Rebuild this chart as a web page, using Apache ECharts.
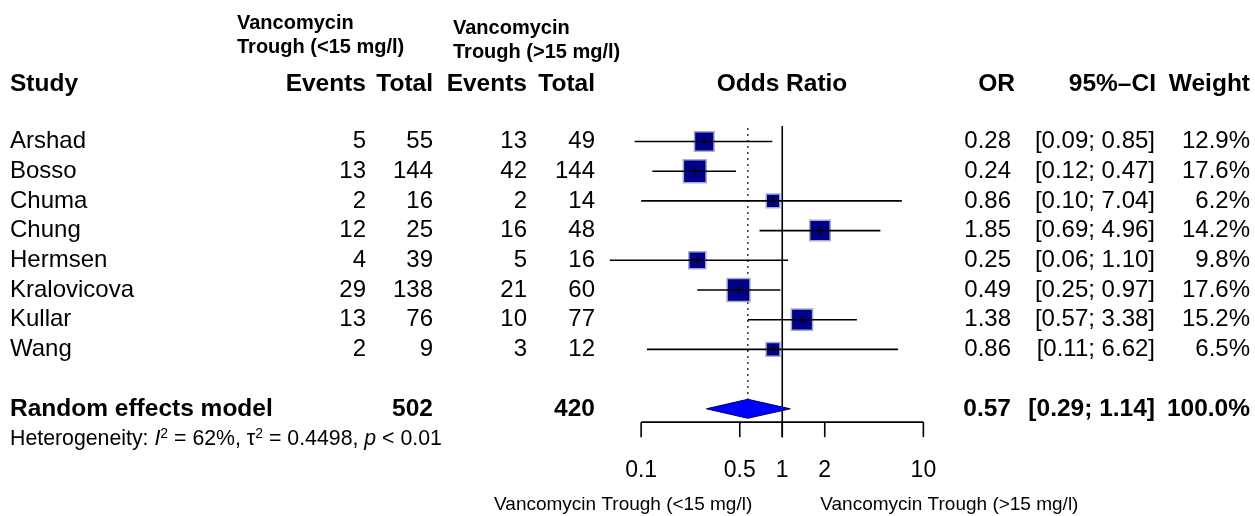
<!DOCTYPE html>
<html><head><meta charset="utf-8">
<script src="https://cdn.jsdelivr.net/npm/echarts@6/dist/echarts.min.js"></script>
<style>html,body{margin:0;padding:0;background:#fff}#c{width:1255px;height:516px}</style>
</head><body><div id="c"></div>
<script>
// ---- data ----
const studies = ['Arshad','Bosso','Chuma','Chung','Hermsen','Kralovicova','Kullar','Wang'];
const eventsLow = [5,13,2,12,4,29,13,2];
const totalLow = [55,144,16,25,39,138,76,9];
const eventsHigh = [13,42,2,16,5,21,10,3];
const totalHigh = [49,144,14,48,16,60,77,12];
const oddsRatio = [0.28,0.24,0.86,1.85,0.25,0.49,1.38,0.86];
const ciLow = [0.09,0.12,0.10,0.69,0.06,0.25,0.57,0.11];
const ciHigh = [0.85,0.47,7.04,4.96,1.10,0.97,3.38,6.62];
const weights = [12.9,17.6,6.2,14.2,9.8,17.6,15.2,6.5];
const pooledLabel = 'Random effects model';
const pooledTotalLow = 502;
const pooledTotalHigh = 420;
const pooledOR = 0.57;
const pooledLow = 0.29;
const pooledHigh = 1.14;
const pooledWeight = 100.0;
const tickValues = [0.1, 0.5, 1, 2, 10];
const tickLabels = ['0.1','0.5','1','2','10'];
const groupLow = ['Vancomycin','Trough (<15 mg/l)'];
const groupHigh = ['Vancomycin','Trough (>15 mg/l)'];
const labelLeft = 'Vancomycin Trough (<15 mg/l)';
const labelRight = 'Vancomycin Trough (>15 mg/l)';

// ---- layout ----
const FONT = '"Liberation Sans", Arial, Helvetica, sans-serif';
const FS = 24;
const FSB = 24.5;
const ROW0 = 141.5, ROWH = 29.7;
const POOLED_ROW = 9;
const AXIS_ROW = 9.45;
const SQ = 5.45;
const COL = {study:10, ev1:366, tot1:433, ev2:527, tot2:595, or:1011, ci:1155, w:1250};

function txt(x, y, text, align, opts) {
  opts = opts || {};
  return {type:'text', x:x, y:y, style:{text:String(text), fill:'#000', align:align,
    verticalAlign:'middle', fontFamily:FONT, fontSize:opts.size||(opts.bold?FSB:FS), fontWeight:opts.bold?'bold':'normal'}};
}
const fmt2 = v => v.toFixed(2);
const ciStr = (a,b) => '[' + fmt2(a) + '; ' + fmt2(b) + ']';

const chart = echarts.init(document.getElementById('c'), null, {renderer:'canvas'});

const option = {
  animation:false,
  backgroundColor:'#fff',
  grid:{left:500, width:564.5, top:0, height:516},
  xAxis:{type:'log', logBase:10, min:0.01, max:100, show:false},
  yAxis:{type:'value', inverse:true, min:-ROW0/ROWH, max:(516-ROW0)/ROWH, show:false},
  graphic:[
    txt(237, 23, groupLow[0], 'left', {bold:true, size:20}),
    txt(237, 47, groupLow[1], 'left', {bold:true, size:20}),
    txt(453, 28, groupHigh[0], 'left', {bold:true, size:20}),
    txt(453, 52, groupHigh[1], 'left', {bold:true, size:20}),
    txt(COL.study, 84, 'Study', 'left', {bold:true}),
    txt(COL.ev1, 84, 'Events', 'right', {bold:true}),
    txt(COL.tot1, 84, 'Total', 'right', {bold:true}),
    txt(COL.ev2, 84, 'Events', 'right', {bold:true}),
    txt(COL.tot2, 84, 'Total', 'right', {bold:true}),
    txt(782, 84, 'Odds Ratio', 'center', {bold:true}),
    txt(1015, 84, 'OR', 'right', {bold:true}),
    txt(1156, 84, '95%\u2013CI', 'right', {bold:true}),
    txt(1250, 84, 'Weight', 'right', {bold:true}),
    {type:'text', x:10, y:439, style:{
      text:'Heterogeneity: {i|I}{sup|2} = 62%, \u03c4{sup|2} = 0.4498, {i|p} < 0.01',
      fill:'#000', align:'left', verticalAlign:'middle', fontFamily:FONT, fontSize:21.3, lineHeight:24,
      rich:{
        i:{fontStyle:'italic', fontFamily:FONT, fontSize:21.3, lineHeight:24, fill:'#000'},
        sup:{fontFamily:FONT, fontSize:14, lineHeight:24, verticalAlign:'top', fill:'#000'}
      }}}
  ],
  series:[
    { // reference lines
      type:'custom', coordinateSystem:'cartesian2d', silent:true,
      data:[[1, -0.52], [pooledOR, -0.45]],
      encode:{x:0, y:1},
      renderItem:function(params, api){
        const top = api.coord([api.value(0), api.value(1)]);
        if (params.dataIndex === 0) {
          const bot = api.coord([1, AXIS_ROW]);
          return {type:'line', shape:{x1:top[0], y1:top[1], x2:top[0], y2:bot[1]+15},
            style:{stroke:'#000', lineWidth:1.6}};
        }
        const bot = api.coord([api.value(0), POOLED_ROW]);
        return {type:'line', shape:{x1:top[0], y1:top[1], x2:top[0], y2:bot[1]-10},
          style:{stroke:'#000', lineWidth:1.6, lineDash:[1.6,4.4]}};
      }
    },
    { // studies
      type:'custom', coordinateSystem:'cartesian2d', silent:true, z:3,
      data: studies.map((s,i)=>[oddsRatio[i], i, ciLow[i], ciHigh[i], weights[i]]),
      encode:{x:[0,2,3], y:1},
      renderItem:function(params, api){
        const row = api.value(1);
        const c = api.coord([api.value(0), row]);
        const l = api.coord([api.value(2), row]);
        const r = api.coord([api.value(3), row]);
        const s = SQ*Math.sqrt(api.value(4));
        return {type:'group', children:[
          {type:'rect', shape:{x:c[0]-s/2, y:c[1]-s/2, width:s, height:s},
            style:{fill:'#00008B', stroke:'#a8acc8', lineWidth:1.5}},
          {type:'line', shape:{x1:l[0], y1:l[1], x2:r[0], y2:r[1]}, style:{stroke:'#000', lineWidth:1.6}},
          {type:'line', shape:{x1:c[0], y1:c[1]-4, x2:c[0], y2:c[1]+4}, style:{stroke:'#000', lineWidth:1.3}}
        ]};
      }
    },
    { // pooled diamond
      type:'custom', coordinateSystem:'cartesian2d', silent:true, z:3,
      data:[[pooledOR, POOLED_ROW, pooledLow, pooledHigh]],
      encode:{x:[0,2,3], y:1},
      renderItem:function(params, api){
        const row = api.value(1);
        const c = api.coord([api.value(0), row]);
        const l = api.coord([api.value(2), row]);
        const r = api.coord([api.value(3), row]);
        const h = 9.5;
        return {type:'polygon', shape:{points:[[l[0],l[1]],[c[0],c[1]-h],[r[0],r[1]],[c[0],c[1]+h]]},
          style:{fill:'#0000FF', stroke:'#00006a', lineWidth:1}};
      }
    },
    { // x axis
      type:'custom', coordinateSystem:'cartesian2d', silent:true,
      data: tickValues.map((t,i)=>[t, AXIS_ROW, i]),
      encode:{x:0, y:1},
      renderItem:function(params, api){
        const p = api.coord([api.value(0), api.value(1)]);
        const children = [
          {type:'line', shape:{x1:p[0], y1:p[1], x2:p[0], y2:p[1]+15}, style:{stroke:'#000', lineWidth:1.6}},
          txt(p[0], p[1]+48, tickLabels[api.value(2)], 'center', {size:23})
        ];
        if (params.dataIndex === 0) {
          const a = api.coord([tickValues[0], AXIS_ROW]);
          const b = api.coord([tickValues[tickValues.length-1], AXIS_ROW]);
          children.push({type:'line', shape:{x1:a[0], y1:a[1], x2:b[0], y2:b[1]}, style:{stroke:'#000', lineWidth:1.6}});
          const one = api.coord([1, AXIS_ROW]);
          children.push(txt(one[0]-30, p[1]+83, labelLeft, 'right', {size:19}));
          children.push(txt(one[0]+38, p[1]+83, labelRight, 'left', {size:19}));
        }
        return {type:'group', children:children};
      }
    },
    { // table text rows
      type:'custom', coordinateSystem:'cartesian2d', silent:true,
      data: studies.map((s,i)=>[1, i]),
      encode:{x:0, y:1},
      renderItem:function(params, api){
        const i = params.dataIndex;
        const y = api.coord([1, api.value(1)])[1];
        return {type:'group', children:[
          txt(COL.study, y, studies[i], 'left'),
          txt(COL.ev1, y, eventsLow[i], 'right'),
          txt(COL.tot1, y, totalLow[i], 'right'),
          txt(COL.ev2, y, eventsHigh[i], 'right'),
          txt(COL.tot2, y, totalHigh[i], 'right'),
          txt(COL.or, y, fmt2(oddsRatio[i]), 'right'),
          txt(COL.ci, y, ciStr(ciLow[i], ciHigh[i]), 'right'),
          txt(COL.w, y, weights[i].toFixed(1)+'%', 'right')
        ]};
      }
    },
    { // pooled text row
      type:'custom', coordinateSystem:'cartesian2d', silent:true,
      data:[[1, POOLED_ROW]],
      encode:{x:0, y:1},
      renderItem:function(params, api){
        const y = api.coord([1, api.value(1)])[1];
        const b = {bold:true};
        return {type:'group', children:[
          txt(COL.study, y, pooledLabel, 'left', b),
          txt(COL.tot1, y, pooledTotalLow, 'right', b),
          txt(COL.tot2, y, pooledTotalHigh, 'right', b),
          txt(COL.or, y, fmt2(pooledOR), 'right', b),
          txt(COL.ci, y, ciStr(pooledLow, pooledHigh), 'right', b),
          txt(COL.w, y, pooledWeight.toFixed(1)+'%', 'right', b)
        ]};
      }
    }
  ]
};
chart.setOption(option);
</script>
</body></html>
